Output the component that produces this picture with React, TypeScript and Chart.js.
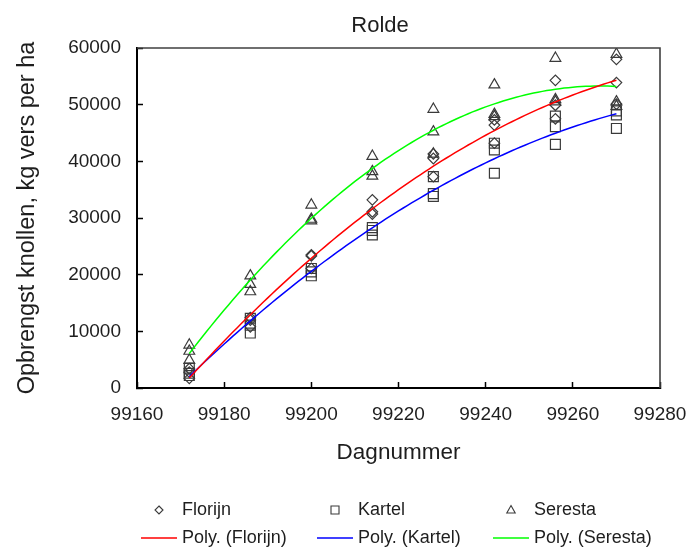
import React, { useEffect, useRef } from 'react';
import { Chart, registerables } from 'chart.js';

Chart.register(...registerables);

// ---- Data ----
const days = [99172, 99186, 99200, 99214, 99228, 99242, 99256, 99270];

const florijnRep1 = [1700, 12400, 23500, 33200, 41300, 47300, 54300, 58000];
const florijnRep2 = [2800, 12000, 23300, 31100, 40500, 46400, 49900, 53900];
const florijnRep3 = [3400, 10800, 21100, 30700, 37300, 43200, 47500, 50100];

const kartelRep1 = [3500, 12300, 21100, 28300, 37300, 43200, 48000, 48900];
const kartelRep2 = [2600, 11100, 20500, 27800, 34300, 42000, 46100, 48200];
const kartelRep3 = [2200, 9700, 19800, 27000, 33800, 37900, 43000, 45800];

const serestaRep1 = [7600, 19800, 32300, 40900, 49200, 53500, 58200, 58900];
const serestaRep2 = [6500, 18300, 29800, 38200, 45200, 48300, 50900, 50500];
const serestaRep3 = [4900, 17000, 29500, 37400, 41300, 47900, 50500, 49700];

const seriesNames = ['Florijn', 'Kartel', 'Seresta'];
const trendNames = ['Poly. (Florijn)', 'Poly. (Kartel)', 'Poly. (Seresta)'];
const trendColors = ['#ff0000', '#0000ff', '#00ff00'];

const xTickMin = 99160;
const xTickMax = 99280;
const xTickStep = 20;
const yTickMin = 0;
const yTickMax = 60000;
const yTickStep = 10000;

const chartTitle = 'Rolde';
const xTitle = 'Dagnummer';
const yTitle = 'Opbrengst knollen, kg vers per ha';

// ---- helpers ----
type Pt = { x: number; y: number };

function toPoints(reps: number[][]): Pt[] {
  const pts: Pt[] = [];
  reps.forEach((rep) => rep.forEach((v, i) => pts.push({ x: days[i], y: v })));
  return pts;
}

// least squares, order-2 polynomial (Excel "Poly." trendline)
function polyFit2(pts: Pt[]) {
  const x0 = 99221;
  let s0 = 0, s1 = 0, s2 = 0, s3 = 0, s4 = 0, t0 = 0, t1 = 0, t2 = 0;
  pts.forEach((p) => {
    const t = p.x - x0;
    s0 += 1; s1 += t; s2 += t * t; s3 += t * t * t; s4 += t * t * t * t;
    t0 += p.y; t1 += p.y * t; t2 += p.y * t * t;
  });
  const M = [
    [s0, s1, s2, t0],
    [s1, s2, s3, t1],
    [s2, s3, s4, t2],
  ];
  for (let i = 0; i < 3; i++) {
    let piv = i;
    for (let r = i + 1; r < 3; r++) if (Math.abs(M[r][i]) > Math.abs(M[piv][i])) piv = r;
    [M[i], M[piv]] = [M[piv], M[i]];
    for (let r = 0; r < 3; r++) {
      if (r === i) continue;
      const f = M[r][i] / M[i][i];
      for (let c = i; c < 4; c++) M[r][c] -= f * M[i][c];
    }
  }
  const a = M[0][3] / M[0][0];
  const b = M[1][3] / M[1][1];
  const c = M[2][3] / M[2][2];
  return (x: number) => {
    const t = x - x0;
    return a + b * t + c * t * t;
  };
}

function trendPoints(pts: Pt[]): Pt[] {
  const f = polyFit2(pts);
  const out: Pt[] = [];
  const lo = days[0];
  const hi = days[days.length - 1];
  for (let x = lo; x <= hi; x += 1) out.push({ x, y: f(x) });
  return out;
}

const FONT = "'Liberation Sans', Arial, sans-serif";
const TEXT = '#1e1e1e';
const MARK = '#3a3a3a';

function drawMarker(ctx: CanvasRenderingContext2D, kind: number, x: number, y: number, s: number) {
  ctx.beginPath();
  if (kind === 0) {
    ctx.moveTo(x, y - s); ctx.lineTo(x + s, y); ctx.lineTo(x, y + s); ctx.lineTo(x - s, y);
    ctx.closePath();
  } else if (kind === 1) {
    ctx.rect(x - s, y - s, 2 * s, 2 * s);
  } else {
    ctx.moveTo(x, y - s * 1.1); ctx.lineTo(x + s * 1.05, y + s * 0.75); ctx.lineTo(x - s * 1.05, y + s * 0.75);
    ctx.closePath();
  }
  ctx.stroke();
}

const decorPlugin = {
  id: 'decor',
  afterDraw(chart: any) {
    const ctx: CanvasRenderingContext2D = chart.ctx;
    const ca = chart.chartArea;
    ctx.save();
    // frame top & right
    ctx.strokeStyle = '#404040';
    ctx.lineWidth = 1.6;
    ctx.beginPath();
    ctx.moveTo(ca.left, ca.top);
    ctx.lineTo(ca.right, ca.top);
    ctx.lineTo(ca.right, ca.bottom);
    ctx.stroke();

    // title
    ctx.fillStyle = TEXT;
    ctx.font = `22px ${FONT}`;
    ctx.textAlign = 'center';
    ctx.textBaseline = 'alphabetic';
    ctx.fillText(chartTitle, 380, 31.5);

    // legend (3 columns x 2 rows)
    const colSym = [159, 335, 511];
    const colText = [182, 358, 534];
    const rowY = [510, 538];
    ctx.font = `18px ${FONT}`;
    ctx.textAlign = 'left';
    ctx.textBaseline = 'middle';
    for (let i = 0; i < 3; i++) {
      ctx.strokeStyle = MARK;
      ctx.lineWidth = 1.1;
      drawMarker(ctx, i, colSym[i], rowY[0], 4);
      ctx.fillStyle = TEXT;
      ctx.fillText(seriesNames[i], colText[i], rowY[0]);

      ctx.strokeStyle = trendColors[i];
      ctx.lineWidth = 1.4;
      ctx.beginPath();
      ctx.moveTo(colSym[i] - 18, rowY[1]);
      ctx.lineTo(colSym[i] + 18, rowY[1]);
      ctx.stroke();
      ctx.fillStyle = TEXT;
      ctx.fillText(trendNames[i], colText[i], rowY[1]);
    }
    ctx.restore();
  },
};

export default function App() {
  const ref = useRef<HTMLCanvasElement>(null);

  useEffect(() => {
    if (!ref.current) return;
    Chart.defaults.font.family = FONT;
    Chart.defaults.color = TEXT;

    const florijn = toPoints([florijnRep1, florijnRep2, florijnRep3]);
    const kartel = toPoints([kartelRep1, kartelRep2, kartelRep3]);
    const seresta = toPoints([serestaRep1, serestaRep2, serestaRep3]);

    const markerBase = {
      borderColor: MARK,
      backgroundColor: 'rgba(0,0,0,0)',
      borderWidth: 1.2,
      showLine: false,
    };
    const lineBase = {
      showLine: true,
      pointRadius: 0,
      borderWidth: 1.5,
      tension: 0,
      fill: false,
    };

    const chart = new Chart(ref.current, {
      type: 'scatter',
      data: {
        datasets: [
          { ...lineBase, label: trendNames[0], data: trendPoints(florijn), borderColor: trendColors[0] },
          { ...lineBase, label: trendNames[1], data: trendPoints(kartel), borderColor: trendColors[1] },
          { ...lineBase, label: trendNames[2], data: trendPoints(seresta), borderColor: trendColors[2] },
          { ...markerBase, label: seriesNames[0], data: florijn, pointStyle: 'rectRot', pointRadius: 5.3 },
          { ...markerBase, label: seriesNames[1], data: kartel, pointStyle: 'rect', pointRadius: 7 },
          { ...markerBase, label: seriesNames[2], data: seresta, pointStyle: 'triangle', pointRadius: 6.2 },
        ] as any,
      },
      options: {
        responsive: false,
        animation: false,
        events: [],
        layout: { padding: { left: 0, right: 28, top: 48, bottom: 83 } },
        plugins: {
          legend: { display: false },
          title: { display: false },
          tooltip: { enabled: false },
        },
        scales: {
          x: {
            type: 'linear',
            min: xTickMin,
            max: xTickMax,
            ticks: {
              stepSize: xTickStep,
              callback: (v: any) => String(v),
              font: { size: 19 },
              color: TEXT,
              padding: 21,
              maxRotation: 0,
            },
            grid: { drawOnChartArea: false, tickLength: -6, tickColor: '#000', tickWidth: 1.5, color: '#000' },
            border: { color: '#000', width: 2 },
            title: { display: true, text: xTitle, font: { size: 22.5 }, color: TEXT, padding: { top: 0, bottom: 2 } },
            afterFit: (s: any) => { s.height = 80; s.paddingLeft = 0; s.paddingRight = 0; },
          },
          y: {
            type: 'linear',
            min: yTickMin,
            max: yTickMax,
            ticks: {
              stepSize: yTickStep,
              callback: (v: any) => String(v),
              font: { size: 19 },
              color: TEXT,
              padding: 22,
            },
            grid: { drawOnChartArea: false, tickLength: -6, tickColor: '#000', tickWidth: 1.5, color: '#000' },
            border: { color: '#000', width: 2 },
            title: { display: true, text: yTitle, font: { size: 23.5 }, color: TEXT, padding: { top: 13, bottom: 0 } },
            afterFit: (s: any) => { s.width = 137; s.paddingTop = 0; s.paddingBottom = 0; },
          },
        },
      } as any,
      plugins: [decorPlugin],
    });
    return () => chart.destroy();
  }, []);

  return (
    <div style={{ position: 'absolute', left: 0, top: 0, width: 688, height: 551, background: '#fff' }}>
      <canvas ref={ref} width={688} height={551} style={{ display: 'block' }} />
    </div>
  );
}
